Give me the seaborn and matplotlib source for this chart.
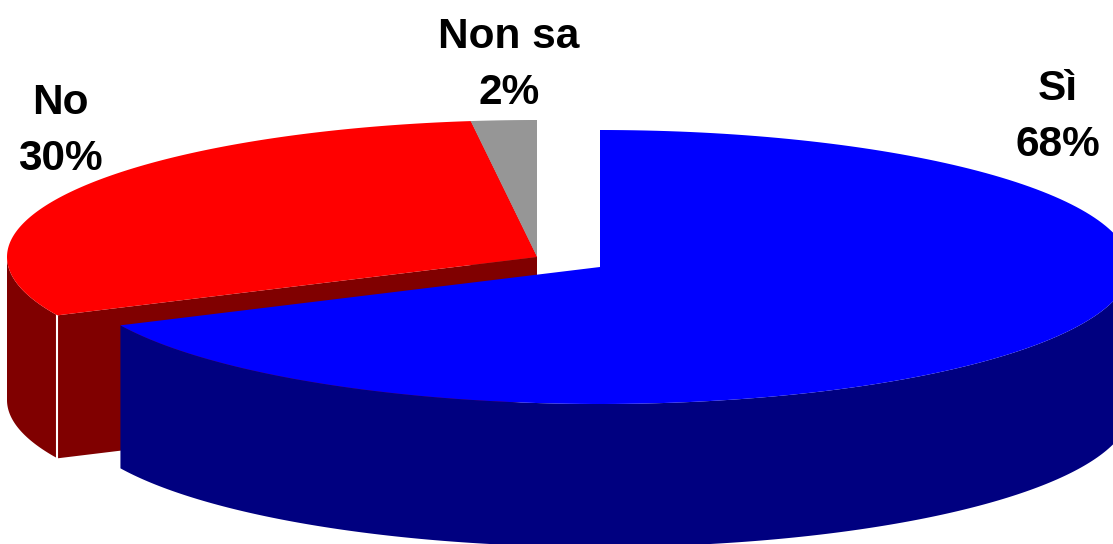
import numpy as np
import seaborn as sns
from matplotlib import pyplot as plt
from matplotlib.patches import Polygon

labels = ["Sì", "No", "Non sa"]
shares = [68, 30, 2]
top_colors = ["#0000ff", "#ff0000", "#969696"]
side_colors = ["#000080", "#800000", "#4b4b4b"]

# slice centres in pixels, the blue one is pulled out of the pie
centres = [(600, 267), (537, 257), (537, 257)]
label_pos = [(1058, 117), (60, 131), (509, 65)]
RX, RY = 530, 137
DEPTH = 143


def arc(centre, start, stop, n=200):
    """Ellipse points, angles in percent clockwise from 12 o'clock"""
    t = np.linspace(start, stop, n) / 100 * 2 * np.pi
    return np.column_stack(
        [centre[0] + RX * np.sin(t), centre[1] - RY * np.cos(t)]
    )


def draw_top(ax, centre, start, stop, color):
    pts = np.vstack([centre, arc(centre, start, stop)])
    ax.add_patch(Polygon(pts, closed=True, fc=color, ec="none", zorder=3))


def draw_outer_wall(ax, centre, start, stop, color):
    # only the part of the rim on the front of the ellipse is visible
    lo, hi = max(start, 25), min(stop, 75)
    if lo >= hi:
        return
    pts = arc(centre, lo, hi)
    wall = np.vstack([pts, (pts + [0, DEPTH])[::-1]])
    ax.add_patch(Polygon(wall, closed=True, fc=color, ec="none", zorder=2))


def draw_cut_wall(ax, centre, stop_pct, color):
    edge = arc(centre, stop_pct, stop_pct, 1)[0]
    pts = [centre, edge, edge + [0, DEPTH], np.array(centre) + [0, DEPTH]]
    ax.add_patch(Polygon(pts, closed=True, fc=color, ec="none", zorder=1))


sns.set_theme(style="white")
plt.rcParams["font.family"] = ["Liberation Sans", "DejaVu Sans"]

fig = plt.figure(figsize=(11.13, 5.44), dpi=100)
ax = fig.add_axes([0, 0, 1, 1])
ax.set_xlim(0, 1113)
ax.set_ylim(544, 0)
ax.axis("off")

bounds = np.concatenate([[0], np.cumsum(shares)])

# back to front: grey and red first, the exploded blue slice goes over them
for i in [2, 1, 0]:
    start, stop = bounds[i], bounds[i + 1]
    zoff = 10 * (2 - i)
    before = len(ax.patches)
    draw_cut_wall(ax, centres[i], start, side_colors[i])
    draw_outer_wall(ax, centres[i], start, stop, side_colors[i])
    draw_top(ax, centres[i], start, stop, top_colors[i])
    for p in ax.patches[before:]:
        p.set_zorder(p.get_zorder() + zoff)

# thin white seam on the red wall, at the corner of the slice
corner = arc(centres[1], bounds[1], bounds[1], 1)[0]
ax.plot(
    [corner[0], corner[0]],
    [corner[1], corner[1] + DEPTH + 3],
    color="white",
    lw=1.5,
    zorder=12,
)

for label, share, pos in zip(labels, shares, label_pos):
    ax.text(
        pos[0],
        pos[1],
        f"{label}\n{share}%",
        ha="center",
        va="center",
        fontsize=30.5,
        fontweight="bold",
        color="black",
        linespacing=1.49,
        zorder=30,
    )

fig.savefig("out.png", dpi=100)
